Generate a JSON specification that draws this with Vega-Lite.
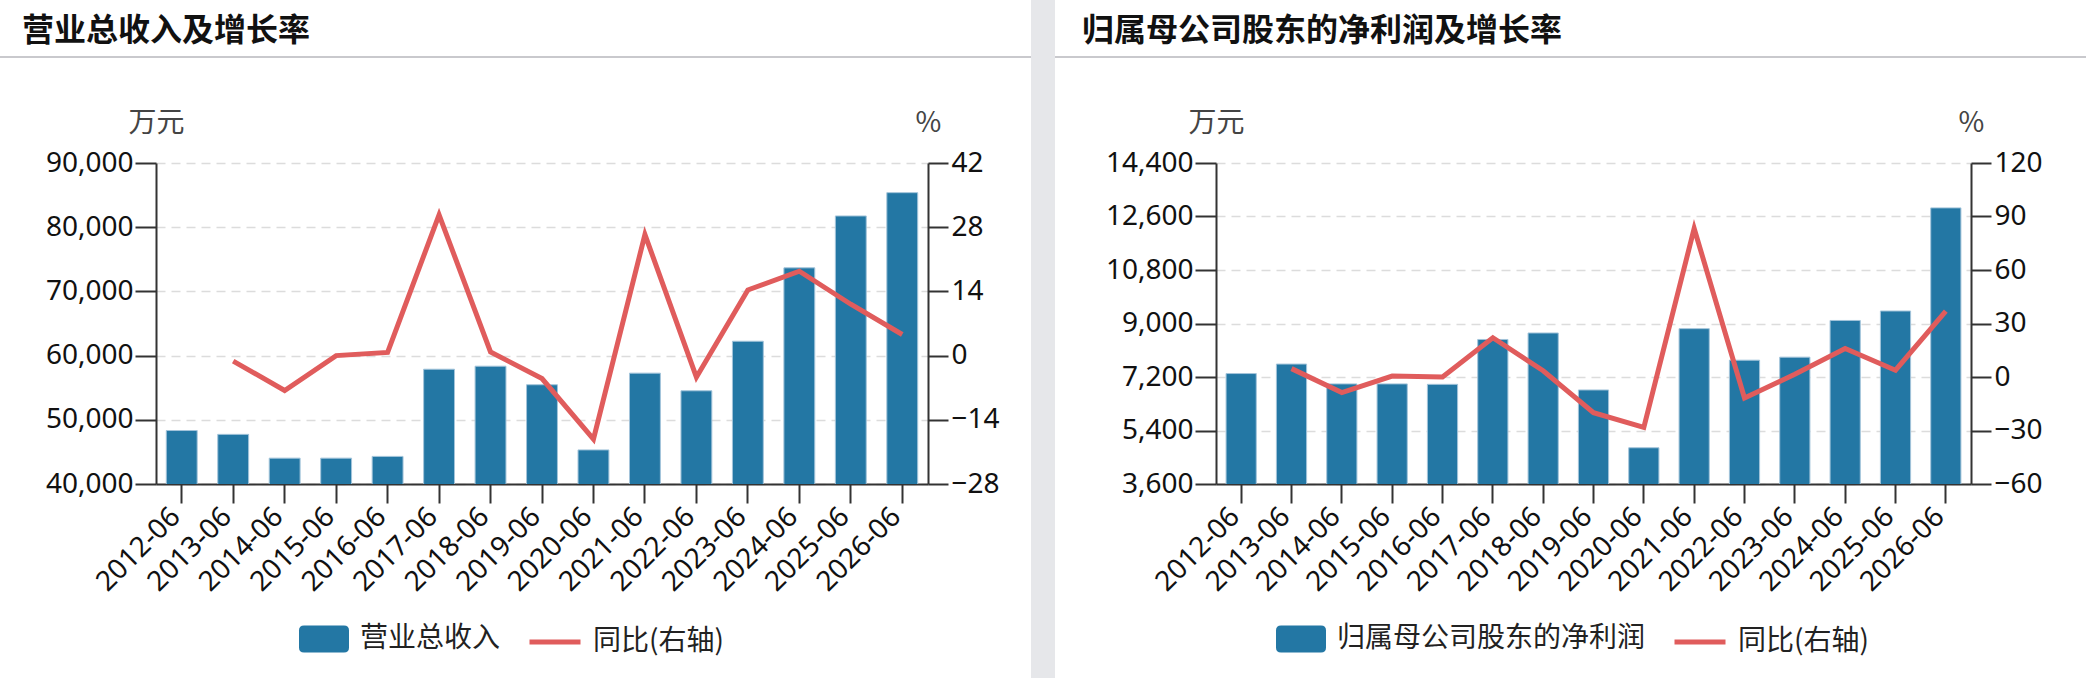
{
  "$schema": "https://vega.github.io/schema/vega-lite/v6.json",
  "padding": 0,
  "background": "white",
  "spacing": 0,
  "datasets": {
    "rev": [
      {"period": "2012-06", "rev": 48330, "yoy": null},
      {"period": "2013-06", "rev": 47730, "yoy": -1.2},
      {"period": "2014-06", "rev": 44030, "yoy": -7.6},
      {"period": "2015-06", "rev": 44030, "yoy": 0.0},
      {"period": "2016-06", "rev": 44300, "yoy": 0.7},
      {"period": "2017-06", "rev": 57880, "yoy": 30.7},
      {"period": "2018-06", "rev": 58350, "yoy": 0.8},
      {"period": "2019-06", "rev": 55460, "yoy": -5.0},
      {"period": "2020-06", "rev": 45310, "yoy": -18.2},
      {"period": "2021-06", "rev": 57270, "yoy": 26.4},
      {"period": "2022-06", "rev": 54520, "yoy": -4.7},
      {"period": "2023-06", "rev": 62240, "yoy": 14.3},
      {"period": "2024-06", "rev": 73670, "yoy": 18.4},
      {"period": "2025-06", "rev": 81750, "yoy": 11.2},
      {"period": "2026-06", "rev": 85380, "yoy": 4.6}
    ],
    "np": [
      {"period": "2012-06", "np": 7316, "yoy2": null},
      {"period": "2013-06", "np": 7635, "yoy2": 4.7},
      {"period": "2014-06", "np": 6968, "yoy2": -8.7},
      {"period": "2015-06", "np": 6968, "yoy2": 0.5},
      {"period": "2016-06", "np": 6953, "yoy2": 0.0},
      {"period": "2017-06", "np": 8463, "yoy2": 22.0},
      {"period": "2018-06", "np": 8681, "yoy2": 3.5},
      {"period": "2019-06", "np": 6764, "yoy2": -20.0},
      {"period": "2020-06", "np": 4819, "yoy2": -28.3},
      {"period": "2021-06", "np": 8826, "yoy2": 83.3},
      {"period": "2022-06", "np": 7766, "yoy2": -11.8},
      {"period": "2023-06", "np": 7868, "yoy2": 1.5},
      {"period": "2024-06", "np": 9102, "yoy2": 16.0},
      {"period": "2025-06", "np": 9421, "yoy2": 3.8},
      {"period": "2026-06", "np": 12890, "yoy2": 37.0}
    ]
  },
  "config": {
    "view": {"stroke": null},
    "font": "Noto Sans, Noto Sans CJK SC",
    "axis": {
      "domainColor": "#333333",
      "domainWidth": 2,
      "tickColor": "#333333",
      "tickWidth": 2,
      "labelColor": "#111111",
      "labelFont": "Noto Sans, Noto Sans CJK SC",
      "labelFontSize": 28,
      "titleFont": "Noto Sans CJK SC",
      "titleFontSize": 28,
      "titleFontWeight": "normal",
      "titleColor": "#444444"
    },
    "legend": {
      "labelFont": "Noto Sans CJK SC",
      "labelFontSize": 28,
      "labelColor": "#222222",
      "labelLimit": 0,
      "padding": 0
    },
    "title": {
      "font": "Noto Sans CJK SC",
      "fontSize": 32,
      "fontWeight": "bold",
      "color": "#111111",
      "anchor": "start",
      "frame": "group",
      "baseline": "alphabetic",
      "offset": 8
    }
  },
  "resolve": {
    "scale": {"x": "independent", "y": "independent", "color": "independent", "stroke": "independent"},
    "legend": {"color": "independent", "stroke": "independent"}
  },
  "hconcat": [
    {
      "spacing": 0,
      "bounds": "flush",
      "vconcat": [
        {"width": 1031, "height": 56, "data": {"values": []}, "mark": "point", "view": {"fill": "white", "stroke": null}},
        {
          "width": 1031, "height": 2,
          "data": {"values": []}, "mark": "point",
          "view": {"fill": "#c9c9cd", "stroke": null},
          "title": {"text": "营业总收入及增长率", "dx": 22}
        },
        {"width": 1031, "height": 105, "data": {"values": []}, "mark": "point"},
        {
          "spacing": 0,
          "bounds": "flush",
          "hconcat": [
            {"width": 156, "height": 321, "data": {"values": []}, "mark": "point"},
            {
              "width": 772,
              "height": 321,
              "data": {"name": "rev"},
              "encoding": {
                "x": {
                  "field": "period", "type": "ordinal",
                  "scale": {"paddingInner": 0.4, "paddingOuter": 0.2},
                  "axis": {
                    "title": null, "labelAngle": -45, "labelAlign": "right",
                    "labelBaseline": "alphabetic", "labelPadding": 15, "tickSize": 19
                  }
                }
              },
              "layer": [
                {
                  "mark": {"type": "bar", "stroke": "#a3c4da", "strokeWidth": 1, "clip": true},
                  "encoding": {
                    "y": {
                      "field": "rev", "type": "quantitative",
                      "scale": {"domain": [40000, 90000], "zero": false, "nice": false},
                      "axis": {
                        "title": "万元", "values": [40000, 50000, 60000, 70000, 80000, 90000],
                        "format": ",d", "grid": true, "gridDash": [9, 6], "gridColor": "#dcdcdc",
                        "gridWidth": 1.5, "tickSize": 21, "labelPadding": 2,
                        "titleAngle": 0, "titleX": 0, "titleY": -32, "titleAlign": "center",
                        "titleBaseline": "alphabetic"
                      }
                    },
                    "color": {
                      "datum": "营业总收入", "type": "nominal",
                      "scale": {"range": ["#2377a4"]},
                      "legend": {
                        "title": null, "orient": "none", "legendX": 299, "legendY": 614,
                        "symbolType": "M-0.8,-0.54L0.8,-0.54Q1,-0.54,1,-0.34L1,0.34Q1,0.54,0.8,0.54L-0.8,0.54Q-1,0.54,-1,0.34L-1,-0.34Q-1,-0.54,-0.8,-0.54Z",
                        "symbolSize": 2500, "symbolStrokeWidth": 0, "labelOffset": 11
                      }
                    }
                  }
                },
                {
                  "mark": {"type": "line", "strokeWidth": 5},
                  "encoding": {
                    "y": {
                      "field": "yoy", "type": "quantitative",
                      "scale": {"domain": [-28, 42], "zero": false, "nice": false},
                      "axis": {
                        "orient": "right", "title": "%", "values": [-28, -14, 0, 14, 28, 42],
                        "grid": false, "tickSize": 20, "labelPadding": 3,
                        "titleAngle": 0, "titleX": 0, "titleY": -32, "titleAlign": "center",
                        "titleBaseline": "alphabetic"
                      }
                    },
                    "stroke": {
                      "datum": "同比(右轴)", "type": "nominal",
                      "scale": {"range": ["#e05c5c"]},
                      "legend": {
                        "title": null, "orient": "none", "legendX": 527, "legendY": 614,
                        "symbolType": "stroke", "symbolSize": 2601, "symbolStrokeWidth": 5,
                        "labelOffset": 10
                      }
                    }
                  }
                }
              ],
              "resolve": {"scale": {"y": "independent"}}
            }
          ]
        }
      ]
    },
    {
      "width": 24, "height": 678,
      "data": {"values": []}, "mark": "point",
      "view": {"fill": "#e6e7ea", "stroke": null}
    },
    {
      "spacing": 0,
      "bounds": "flush",
      "vconcat": [
        {"width": 1031, "height": 56, "data": {"values": []}, "mark": "point", "view": {"fill": "white", "stroke": null}},
        {
          "width": 1031, "height": 2,
          "data": {"values": []}, "mark": "point",
          "view": {"fill": "#c9c9cd", "stroke": null},
          "title": {"text": "归属母公司股东的净利润及增长率", "dx": 27}
        },
        {"width": 1031, "height": 105, "data": {"values": []}, "mark": "point"},
        {
          "spacing": 0,
          "bounds": "flush",
          "hconcat": [
            {"width": 161, "height": 321, "data": {"values": []}, "mark": "point"},
            {
              "width": 755,
              "height": 321,
              "data": {"name": "np"},
              "encoding": {
                "x": {
                  "field": "period", "type": "ordinal",
                  "scale": {"paddingInner": 0.4, "paddingOuter": 0.2},
                  "axis": {
                    "title": null, "labelAngle": -45, "labelAlign": "right",
                    "labelBaseline": "alphabetic", "labelPadding": 15, "tickSize": 19
                  }
                }
              },
              "layer": [
                {
                  "mark": {"type": "bar", "stroke": "#a3c4da", "strokeWidth": 1, "clip": true},
                  "encoding": {
                    "y": {
                      "field": "np", "type": "quantitative",
                      "scale": {"domain": [3600, 14400], "zero": false, "nice": false},
                      "axis": {
                        "title": "万元", "values": [3600, 5400, 7200, 9000, 10800, 12600, 14400],
                        "format": ",d", "grid": true, "gridDash": [9, 6], "gridColor": "#dcdcdc",
                        "gridWidth": 1.5, "tickSize": 21, "labelPadding": 2,
                        "titleAngle": 0, "titleX": 0, "titleY": -32, "titleAlign": "center",
                        "titleBaseline": "alphabetic"
                      }
                    },
                    "color": {
                      "datum": "归属母公司股东的净利润", "type": "nominal",
                      "scale": {"range": ["#2377a4"]},
                      "legend": {
                        "title": null, "orient": "none", "legendX": 221, "legendY": 614,
                        "symbolType": "M-0.8,-0.54L0.8,-0.54Q1,-0.54,1,-0.34L1,0.34Q1,0.54,0.8,0.54L-0.8,0.54Q-1,0.54,-1,0.34L-1,-0.34Q-1,-0.54,-0.8,-0.54Z",
                        "symbolSize": 2500, "symbolStrokeWidth": 0, "labelOffset": 11
                      }
                    }
                  }
                },
                {
                  "mark": {"type": "line", "strokeWidth": 5},
                  "encoding": {
                    "y": {
                      "field": "yoy2", "type": "quantitative",
                      "scale": {"domain": [-60, 120], "zero": false, "nice": false},
                      "axis": {
                        "orient": "right", "title": "%", "values": [-60, -30, 0, 30, 60, 90, 120],
                        "grid": false, "tickSize": 20, "labelPadding": 3,
                        "titleAngle": 0, "titleX": 0, "titleY": -32, "titleAlign": "center",
                        "titleBaseline": "alphabetic"
                      }
                    },
                    "stroke": {
                      "datum": "同比(右轴)", "type": "nominal",
                      "scale": {"range": ["#e05c5c"]},
                      "legend": {
                        "title": null, "orient": "none", "legendX": 617, "legendY": 614,
                        "symbolType": "stroke", "symbolSize": 2601, "symbolStrokeWidth": 5,
                        "labelOffset": 10
                      }
                    }
                  }
                }
              ],
              "resolve": {"scale": {"y": "independent"}}
            }
          ]
        }
      ]
    }
  ]
}
